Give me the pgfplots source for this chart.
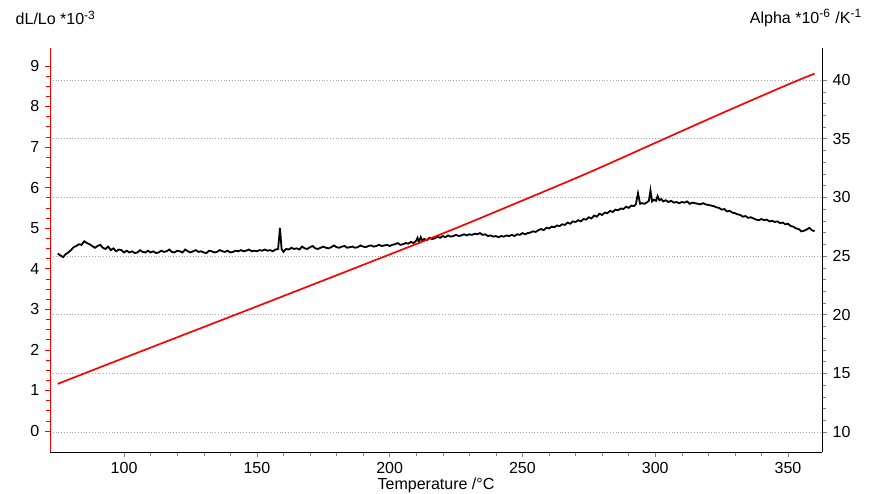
\documentclass[border=0pt]{standalone}
\usepackage{pgfplots}
\pgfplotsset{compat=1.18}
\usepackage{fontspec}
\setmainfont{Liberation Sans}
\begin{document}
\fontsize{8}{9.6}\selectfont
\begin{tikzpicture}
\pgfplotsset{
  common/.style={
    at={(0,0)}, anchor=south west,
    scale only axis, width=386pt, height=202pt,
    xmin=72.1, xmax=362.8,
    tick align=outside,
    major tick length=2.5pt, minor tick length=2pt,
    /pgf/number format/assume math mode=true,
    tick label style={font=\fontsize{8}{9.6}\selectfont},
  }
}
% right axis (alpha)
\begin{axis}[common,
  axis x line=none,
  axis y line*=right,
  ymin=8.29, ymax=42.73,
  ytick={10,15,20,25,30,35,40},
  minor y tick num=4,
  ymajorgrids,
  grid style={densely dotted, black!35, line width=0.4pt},
]
\addplot[black, line width=0.9pt] coordinates {
(75,25.2)(76,25.05)(77,24.9)(78,25.15)(79,25.3)(80,25.5)(81,25.75)(82,25.85)(83,26.0)(84,25.95)
(85,26.25)(86,26.1)(87,26.0)(88,25.85)(89,25.7)(90,25.85)(91,25.95)(92,25.7)(93,25.6)(94,25.8)
(95,25.5)(96,25.65)(97,25.4)(98,25.55)(99,25.5)(100,25.3)(101,25.45)(102,25.3)(103,25.4)(104,25.25)
(105,25.3)(106,25.5)(107,25.35)(108,25.3)(109,25.45)(110,25.3)(111,25.4)(112,25.25)(113,25.3)(114,25.45)
(115,25.35)(116,25.4)(117,25.55)(118,25.35)(119,25.3)(120,25.45)(121,25.4)(122,25.3)(123,25.55)(124,25.4)
(125,25.3)(126,25.4)(127,25.5)(128,25.35)(129,25.4)(130,25.3)(131,25.25)(132,25.45)(133,25.4)(134,25.3)
(135,25.35)(136,25.5)(137,25.4)(138,25.35)(139,25.45)(140,25.3)(141,25.35)(142,25.45)(143,25.4)(144,25.5)
(145,25.4)(146,25.45)(147,25.55)(148,25.4)(149,25.45)(150,25.4)(151,25.5)(152,25.45)(153,25.55)(154,25.45)
(155,25.5)(156,25.4)(157,25.55)(158,25.6)(158.7,27.4)(159.3,25.6)(160,25.35)(161,25.6)(162,25.55)(163,25.7)
(164,25.6)(165,25.65)(166,25.55)(167,25.8)(168,25.65)(169,25.6)(170,25.75)(171,25.85)(172,25.65)(173,25.6)
(174,25.7)(175,25.8)(176,25.7)(177,25.65)(178,25.75)(179,25.9)(180,25.75)(181,25.7)(182,25.8)(183,25.85)
(184,25.7)(185,25.75)(186,25.8)(187,25.7)(188,25.75)(189,25.9)(190,25.8)(191,25.75)(192,25.85)(193,25.9)
(194,25.8)(195,25.85)(196,25.95)(197,25.85)(198,25.9)(199,25.95)(200,25.85)(201,25.95)(202,26.0)(203,26.1)
(204,25.95)(205,26.0)(206,26.1)(207,26.05)(208,26.2)(209,26.1)(210,26.3)(210.5,26.55)(211,26.2)(211.7,26.6)
(212.3,26.3)(213,26.45)(214,26.35)(215,26.55)(216,26.45)(217,26.5)(218,26.65)(219,26.55)(220,26.7)(221,26.6)
(222,26.75)(223,26.65)(224,26.7)(225,26.8)(226,26.7)(227,26.75)(228,26.85)(229,26.75)(230,26.85)(231,26.8)
(232,26.9)(233,26.85)(234,26.95)(235,26.8)(236,26.85)(237,26.7)(238,26.75)(239,26.65)(240,26.7)(241,26.6)
(242,26.7)(243,26.65)(244,26.75)(245,26.7)(246,26.8)(247,26.7)(248,26.85)(249,26.8)(250,26.95)(251,26.85)
(252,26.95)(253,27.0)(254,27.1)(255,27.05)(256,27.2)(257,27.3)(258,27.2)(259,27.4)(260,27.35)(261,27.5)
(262,27.45)(263,27.6)(264,27.55)(265,27.7)(266,27.65)(267,27.85)(268,27.75)(269,27.95)(270,27.9)(271,28.05)
(272,27.95)(273,28.15)(274,28.1)(275,28.3)(276,28.2)(277,28.45)(278,28.35)(279,28.6)(280,28.5)(281,28.7)
(282,28.65)(283,28.85)(284,28.75)(285,28.95)(286,28.9)(287,29.05)(288,29.0)(289,29.2)(290,29.1)(291,29.3)
(292,29.25)(292.7,29.4)(293.5,30.35)(294.3,29.45)(295,29.5)(296,29.45)(297,29.6)(297.6,29.7)(298.2,30.6)(298.8,29.65)
(299.5,29.8)(300.3,29.7)(300.9,30.1)(301.6,29.75)(302.3,29.85)(303,29.65)(304,29.75)(305,29.6)(306,29.7)(307,29.55)
(308,29.6)(309,29.5)(310,29.6)(311,29.55)(312,29.65)(313,29.45)(314,29.55)(315,29.5)(316,29.45)(317,29.4)
(318,29.5)(319,29.4)(320,29.35)(321,29.3)(322,29.25)(323,29.15)(324,29.1)(325,28.95)(326,29.0)(327,28.8)
(328,28.85)(329,28.7)(330,28.65)(331,28.55)(332,28.5)(333,28.35)(334,28.4)(335,28.25)(336,28.3)(337,28.2)
(338,28.1)(339,28.05)(340,28.15)(341,28.05)(342,28.1)(343,27.95)(344,28.0)(345,27.9)(346,27.95)(347,27.8)
(348,27.85)(349,27.7)(350,27.75)(351,27.55)(352,27.5)(353,27.35)(354,27.3)(355,27.1)(356,27.15)(357,27.25)
(358,27.4)(359,27.2)(360,27.1)
};
\end{axis}
% left axis (dL/Lo)
\begin{axis}[common,
  axis x line*=bottom,
  axis y line*=left,
  ymin=-0.52, ymax=9.44,
  ytick={0,1,2,3,4,5,6,7,8,9},
  minor y tick num=3,
  xtick={100,150,200,250,300,350},
  minor x tick num=4,
  y axis line style={red},
  ytick style={red},
  yticklabel style={black},
]
\addplot[red, line width=0.85pt, smooth] coordinates {
(75,1.16)(100,1.80)(150,3.07)(200,4.35)(225,5.00)(250,5.68)(275,6.37)(300,7.10)(325,7.83)(350,8.54)(360,8.81)};
\end{axis}
\node[anchor=west] at (-20pt,217pt) {dL/Lo *10\textsuperscript{-3}};
\node[anchor=east] at (409pt,217pt) {Alpha *10\textsuperscript{-6} /K\textsuperscript{-1}};
\node at (193pt,-16.5pt) {Temperature /°C};
\pgfresetboundingbox
\useasboundingbox (-25pt,-20.5pt) rectangle (414pt,226pt);
\end{tikzpicture}
\end{document}
